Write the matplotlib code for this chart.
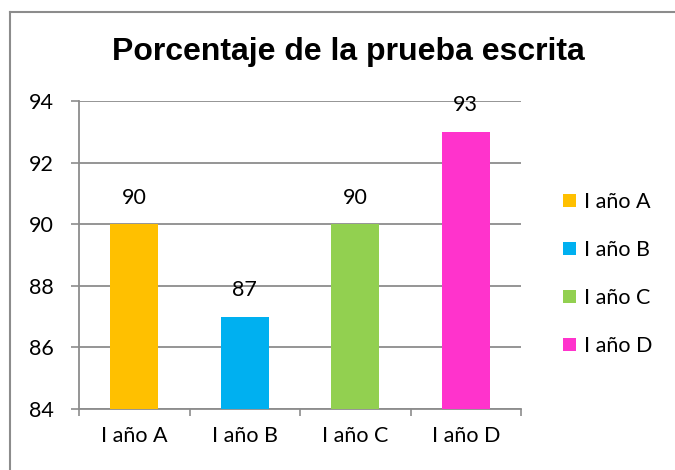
import matplotlib
matplotlib.use('Agg')
import matplotlib.pyplot as plt
from matplotlib.lines import Line2D
from matplotlib.patches import Patch

# Chart data
categories = ['I año A', 'I año B', 'I año C', 'I año D']
values = [90, 87, 90, 93]
colors = ['#FFC000', '#00B0F0', '#92D050', '#FF33CC']
y_ticks = [84, 86, 88, 90, 92, 94]

grid_col = '#8C8C8C'
label_font = 'Lato'
fs = 15.5

fig = plt.figure(figsize=(6.75, 4.70), dpi=100)
ax = fig.add_axes([79 / 675, 1 - 409 / 470, (521 - 79) / 675, (409 - 101) / 470])

x = range(len(categories))
bars = ax.bar(x, [v - y_ticks[0] for v in values], bottom=y_ticks[0],
              width=0.43, color=colors, zorder=3)

ax.set_xlim(-0.5, len(categories) - 0.5)
ax.set_ylim(y_ticks[0], y_ticks[-1])
ax.set_yticks(y_ticks)
ax.set_yticklabels([str(t) for t in y_ticks], family=label_font, fontsize=fs)
ax.set_xticks(list(x))
ax.set_xticklabels(categories, family=label_font, fontsize=fs)
ax.set_xticks([i - 0.5 for i in range(len(categories) + 1)], minor=True)

ax.tick_params(axis='x', which='major', length=0, pad=12)
ax.tick_params(axis='x', which='minor', length=5, width=1.2, color=grid_col)
ax.tick_params(axis='y', length=6, width=1.2, color=grid_col, pad=12)

ax.grid(axis='y', color=grid_col, linewidth=1.3, zorder=0)
for s in ['top', 'right']:
    ax.spines[s].set_visible(False)
for s in ['left', 'bottom']:
    ax.spines[s].set_color(grid_col)
    ax.spines[s].set_linewidth(1.3)

for i, v in enumerate(values):
    ax.annotate(str(v), (i, v), xytext=(0, 12), textcoords='offset points',
                ha='center', va='bottom', family=label_font, fontsize=fs)

fig.text(348 / 675, 1 - 52 / 470, 'Porcentaje de la prueba escrita',
         ha='center', va='center', family='Liberation Sans',
         fontweight='bold', fontsize=23)

handles = [Patch(facecolor=c) for c in colors]
fig.legend(handles, categories, loc='center left',
           bbox_to_anchor=(544 / 675, 1 - 274 / 470), frameon=False,
           prop={'family': label_font, 'size': fs},
           handlelength=0.6, handleheight=0.6, handletextpad=0.35,
           labelspacing=1.3)

# outer chart border
fig.add_artist(Line2D([9.5 / 675, 9.5 / 675], [0, 1 - 11.5 / 470],
                      transform=fig.transFigure, color='#8C8C8C', linewidth=1.5))
fig.add_artist(Line2D([9.5 / 675, 1], [1 - 11.5 / 470, 1 - 11.5 / 470],
                      transform=fig.transFigure, color='#8C8C8C', linewidth=1.5))

fig.savefig('out.png', dpi=100)
plt.close(fig)
